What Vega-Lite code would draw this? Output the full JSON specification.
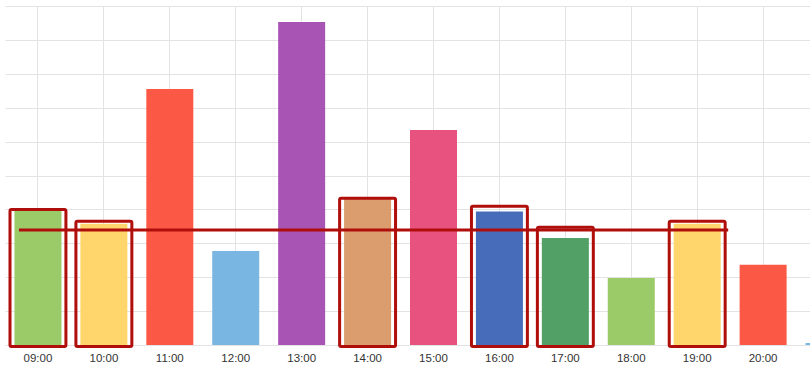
{
  "$schema": "https://vega.github.io/schema/vega-lite/v6.json",
  "width": 810,
  "height": 339,
  "autosize": {"type": "none"},
  "padding": {"top": 6, "left": 0, "right": 0, "bottom": 21},
  "background": "white",
  "config": {
    "view": {"stroke": null},
    "axisY": {
      "title": null,
      "labels": false,
      "ticks": false,
      "domain": false,
      "grid": true,
      "values": [0,1,2,3,4,5,6,7,8,9,10],
      "gridColor": "#e3e3e3",
      "gridWidth": 1
    }
  },
  "datasets": {
    "bars": [
      {"hour": "09:00", "value": 3.98},
      {"hour": "10:00", "value": 3.58},
      {"hour": "11:00", "value": 7.55},
      {"hour": "12:00", "value": 2.77},
      {"hour": "13:00", "value": 9.53},
      {"hour": "14:00", "value": 4.31},
      {"hour": "15:00", "value": 6.34},
      {"hour": "16:00", "value": 3.94},
      {"hour": "17:00", "value": 3.16},
      {"hour": "18:00", "value": 1.98},
      {"hour": "19:00", "value": 3.58},
      {"hour": "20:00", "value": 2.37},
      {"hour": "21:00", "value": 0.06}
    ],
    "boxes": [
      {"hour": "09:00", "top": 4.0},
      {"hour": "10:00", "top": 3.65},
      {"hour": "14:00", "top": 4.33},
      {"hour": "16:00", "top": 4.09},
      {"hour": "17:00", "top": 3.47},
      {"hour": "19:00", "top": 3.65}
    ],
    "avg": [
      {"start": "09:00", "end": "19:00", "mean": 3.39}
    ]
  },
  "encoding": {
    "x": {
      "field": "hour",
      "type": "ordinal",
      "scale": {
        "domain": ["09:00","10:00","11:00","12:00","13:00","14:00","15:00","16:00","17:00","18:00","19:00","20:00","21:00"],
        "range": [5, 862],
        "paddingInner": 0.287,
        "paddingOuter": 0.1435
      },
      "axis": {
        "title": null,
        "labelAngle": 0,
        "domain": false,
        "ticks": false,
        "grid": true,
        "gridColor": "#e3e3e3",
        "gridWidth": 1,
        "bandPosition": 0.5,
        "labelFont": "Liberation Sans",
        "labelFontSize": 11.5,
        "labelColor": "#333333",
        "labelPadding": 7,
        "labelExpr": "datum.value == '21:00' ? '' : datum.value"
      }
    }
  },
  "layer": [
    {
      "data": {"name": "bars"},
      "mark": {"type": "bar", "clip": true},
      "encoding": {
        "y": {
          "field": "value",
          "type": "quantitative",
          "scale": {"domain": [0, 10], "nice": false}
        },
        "color": {
          "field": "hour",
          "type": "nominal",
          "legend": null,
          "scale": {
            "domain": ["09:00","10:00","11:00","12:00","13:00","14:00","15:00","16:00","17:00","18:00","19:00","20:00","21:00"],
            "range": ["#9bcb68","#fed66b","#fc5846","#79b6e2","#a754b4","#db9c6e","#e8527e","#466cba","#52a066","#9bcb68","#fed66b","#fc5846","#79b6e2"]
          }
        }
      }
    },
    {
      "data": {"name": "boxes"},
      "mark": {"type": "bar", "filled": false, "stroke": "#b00e0a", "strokeWidth": 3, "cornerRadius": 1.5, "width": {"band": 1.19}, "y2Offset": 1.5},
      "encoding": {
        "y": {"field": "top", "type": "quantitative"},
        "y2": {"datum": 0}
      }
    },
    {
      "data": {"name": "avg"},
      "mark": {"type": "rule", "color": "#b00e0a", "strokeWidth": 3, "xOffset": -19, "x2Offset": 31},
      "encoding": {
        "x": {"field": "start", "type": "ordinal"},
        "x2": {"field": "end"},
        "y": {"field": "mean", "type": "quantitative"}
      }
    }
  ]
}
